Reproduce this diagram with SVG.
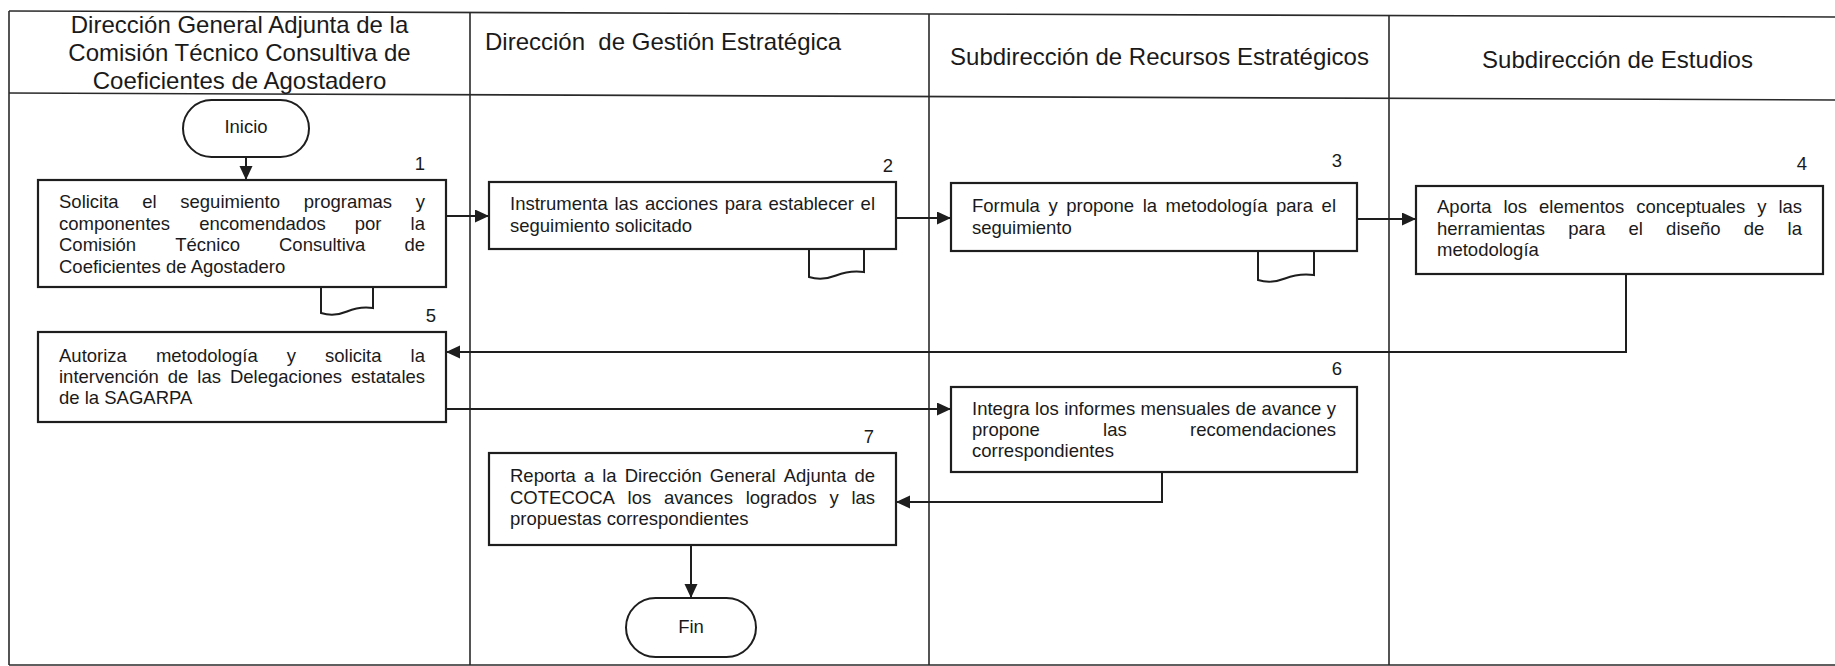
<svg xmlns="http://www.w3.org/2000/svg" width="1835" height="666" viewBox="0 0 1835 666">
<style>
  .lane { stroke:#2a2a2a; stroke-width:1.6; fill:none; }
  .box { fill:#fff; stroke:#1e1e1e; stroke-width:2.2; }
  .doc { fill:none; stroke:#1e1e1e; stroke-width:2; }
  .term { fill:#fff; stroke:#1e1e1e; stroke-width:2; }
  .hdr { font-family:"Liberation Sans", Arial, sans-serif; font-size:24px; fill:#1a1a1a; }
  .t { font-family:"Liberation Sans", Arial, sans-serif; font-size:18.5px; fill:#1a1a1a; }
  .num { font-family:"Liberation Sans", Arial, sans-serif; font-size:18.5px; fill:#1a1a1a; text-anchor:end; }
  .c { text-anchor:middle; }
  .conn { fill:none; stroke:#1e1e1e; stroke-width:2; marker-end:url(#arr); }
</style>
<defs>
  <marker id="arr" markerUnits="userSpaceOnUse" markerWidth="15" markerHeight="14" refX="14" refY="6.5" orient="auto">
    <path d="M0,0 L14,6.5 L0,13 z" fill="#1e1e1e"/>
  </marker>
</defs>
<rect width="1835" height="666" fill="#fff"/>

<g id="lanes">
  <line class="lane" x1="9" y1="11" x2="1835" y2="17"/>
  <line class="lane" x1="9" y1="93" x2="1835" y2="100"/>
  <line class="lane" x1="9" y1="665" x2="1835" y2="665"/>
  <line class="lane" x1="9" y1="11" x2="9" y2="665"/>
  <line class="lane" x1="470" y1="12" x2="470" y2="665"/>
  <line class="lane" x1="929" y1="14" x2="929" y2="665"/>
  <line class="lane" x1="1389" y1="15" x2="1389" y2="665"/>
  <text class="hdr c" x="239.5" y="33">Dirección General Adjunta de la</text>
  <text class="hdr c" x="239.5" y="61">Comisión Técnico Consultiva de</text>
  <text class="hdr c" x="239.5" y="89">Coeficientes de Agostadero</text>
  <text class="hdr" x="485" y="50" xml:space="preserve">Dirección  de Gestión Estratégica</text>
  <text class="hdr c" x="1159.5" y="65">Subdirección de Recursos Estratégicos</text>
  <text class="hdr c" x="1617.5" y="68">Subdirección de Estudios</text>
</g>

<g id="connectors">
  <line class="conn" x1="246" y1="157" x2="246" y2="180"/>
  <line class="conn" x1="446" y1="216" x2="489" y2="216"/>
  <line class="conn" x1="896" y1="218" x2="951" y2="218"/>
  <line class="conn" x1="1357" y1="219" x2="1416" y2="219"/>
  <polyline class="conn" points="1626,274 1626,352 446,352"/>
  <polyline class="conn" points="446,409 951,409"/>
  <polyline class="conn" points="1162,472 1162,502 896,502"/>
  <line class="conn" x1="691" y1="545" x2="691" y2="598"/>
</g>

<g id="inicio">
  <rect class="term" x="183" y="100" width="126" height="57" rx="28.5" ry="28.5"/>
  <text class="t c" x="246" y="133">Inicio</text>
</g>

<g id="paso1">
  <rect class="box" x="38" y="180" width="408" height="107"/>
  <path class="doc" d="M321,287 V313 Q334,317 347,311.5 T373,308 V287"/>
  <text class="num" x="425" y="170">1</text>
  <text class="t">
    <tspan x="59" y="208">Solicita</tspan><tspan x="142.3">el</tspan><tspan x="180.3">seguimiento</tspan><tspan x="303.7">programas</tspan><tspan x="415.8">y</tspan>
    <tspan x="59" y="229.5">componentes</tspan><tspan x="199.2">encomendados</tspan><tspan x="354.8">por</tspan><tspan x="410.6">la</tspan>
    <tspan x="59" y="251">Comisión</tspan><tspan x="175.2">Técnico</tspan><tspan x="279">Consultiva</tspan><tspan x="404.4">de</tspan>
    <tspan x="59" y="272.5">Coeficientes de Agostadero</tspan>
  </text>
</g>

<g id="paso2">
  <rect class="box" x="489" y="182" width="407" height="67"/>
  <path class="doc" d="M809,249 V277 Q822,281 836,275.5 T864,272 V249"/>
  <text class="num" x="893" y="172">2</text>
  <text class="t">
    <tspan x="510" y="210">Instrumenta</tspan><tspan x="614.5">las</tspan><tspan x="644.9">acciones</tspan><tspan x="724.7">para</tspan><tspan x="768.5">establecer</tspan><tspan x="860.6">el</tspan>
    <tspan x="510" y="231.5">seguimiento solicitado</tspan>
  </text>
</g>

<g id="paso3">
  <rect class="box" x="951" y="183" width="406" height="68"/>
  <path class="doc" d="M1258,251 V280 Q1271,284 1285,278.5 T1314,275 V251"/>
  <text class="num" x="1342" y="167">3</text>
  <text class="t">
    <tspan x="972" y="212">Formula</tspan><tspan x="1048.4">y</tspan><tspan x="1066.2">propone</tspan><tspan x="1142.7">la</tspan><tspan x="1165.6">metodología</tspan><tspan x="1276">para</tspan><tspan x="1321.6">el</tspan>
    <tspan x="972" y="233.5">seguimiento</tspan>
  </text>
</g>

<g id="paso4">
  <rect class="box" x="1416" y="186" width="407" height="88"/>
  <text class="num" x="1807" y="170">4</text>
  <text class="t">
    <tspan x="1437" y="213">Aporta</tspan><tspan x="1503.4">los</tspan><tspan x="1539">elementos</tspan><tspan x="1636.3">conceptuales</tspan><tspan x="1757.2">y</tspan><tspan x="1778.4">las</tspan>
    <tspan x="1437" y="234.5">herramientas</tspan><tspan x="1568.2">para</tspan><tspan x="1628.5">el</tspan><tspan x="1666.1">diseño</tspan><tspan x="1743.8">de</tspan><tspan x="1787.6">la</tspan>
    <tspan x="1437" y="256">metodología</tspan>
  </text>
</g>

<g id="paso5">
  <rect class="box" x="38" y="332" width="408" height="90"/>
  <text class="num" x="436" y="322">5</text>
  <text class="t">
    <tspan x="59" y="362">Autoriza</tspan><tspan x="155.9">metodología</tspan><tspan x="286.8">y</tspan><tspan x="325">solicita</tspan><tspan x="410.6">la</tspan>
    <tspan x="59" y="383">intervención</tspan><tspan x="167.7">de</tspan><tspan x="197.3">las</tspan><tspan x="229.9">Delegaciones</tspan><tspan x="351">estatales</tspan>
    <tspan x="59" y="404">de la SAGARPA</tspan>
  </text>
</g>

<g id="paso6">
  <rect class="box" x="951" y="387" width="406" height="85"/>
  <text class="num" x="1342" y="375">6</text>
  <text class="t">
    <tspan x="972" y="415">Integra</tspan><tspan x="1035.1">los</tspan><tspan x="1064.2">informes</tspan><tspan x="1140.6">mensuales</tspan><tspan x="1235.6">de</tspan><tspan x="1261.6">avance</tspan><tspan x="1326.8">y</tspan>
    <tspan x="972" y="436">propone</tspan><tspan x="1103.1">las</tspan><tspan x="1190">recomendaciones</tspan>
    <tspan x="972" y="457">correspondientes</tspan>
  </text>
</g>

<g id="paso7">
  <rect class="box" x="489" y="453" width="407" height="92"/>
  <text class="num" x="874" y="443">7</text>
  <text class="t">
    <tspan x="510" y="482">Reporta</tspan><tspan x="583.9">a</tspan><tspan x="602.2">la</tspan><tspan x="624.7">Dirección</tspan><tspan x="709.8">General</tspan><tspan x="783.7">Adjunta</tspan><tspan x="854.4">de</tspan>
    <tspan x="510" y="503.5">COTECOCA</tspan><tspan x="627.6">los</tspan><tspan x="664">avances</tspan><tspan x="745.7">logrados</tspan><tspan x="829.4">y</tspan><tspan x="851.4">las</tspan>
    <tspan x="510" y="525">propuestas correspondientes</tspan>
  </text>
</g>

<g id="fin">
  <rect class="term" x="626" y="598" width="130" height="59" rx="29.5" ry="29.5"/>
  <text class="t c" x="691" y="633">Fin</text>
</g>
</svg>
